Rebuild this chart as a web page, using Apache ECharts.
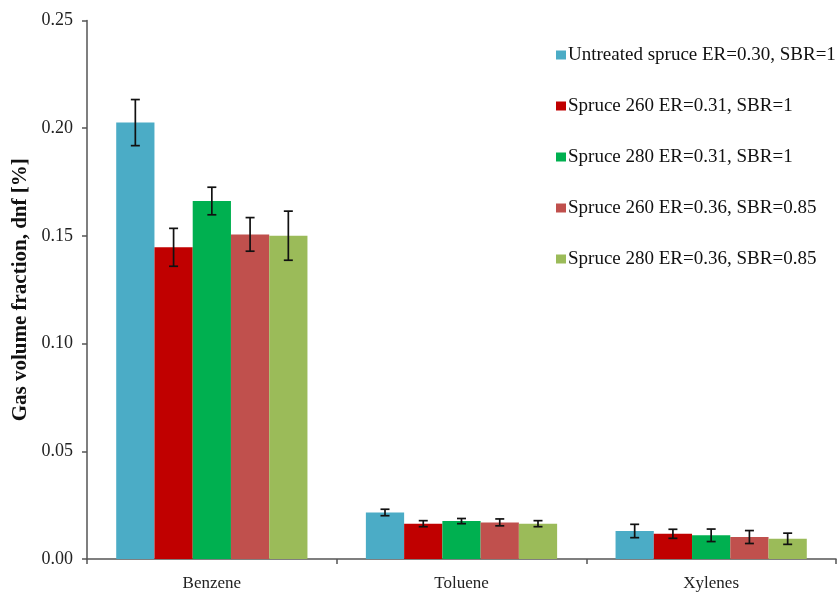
<!DOCTYPE html>
<html>
<head>
<meta charset="utf-8">
<script src="https://cdn.jsdelivr.net/npm/echarts@6/dist/echarts.min.js"></script>
<style>
  html, body { margin: 0; padding: 0; background: #fff; }
  #chart { width: 838px; height: 592px; }
</style>
</head>
<body>
<div id="chart"></div>
<script>
// Tar compounds in product gas, mean values with standard deviation
const categories = ['Benzene', 'Toluene', 'Xylenes'];

const seriesNames = [
  'Untreated spruce ER=0.30, SBR=1',
  'Spruce 260 ER=0.31, SBR=1',
  'Spruce 280 ER=0.31, SBR=1',
  'Spruce 260 ER=0.36, SBR=0.85',
  'Spruce 280 ER=0.36, SBR=0.85'
];

const untreated = [0.2026, 0.0216, 0.0130];
const spruce260a = [0.1447, 0.0164, 0.0117];
const spruce280a = [0.1662, 0.0176, 0.0110];
const spruce260b = [0.1507, 0.0170, 0.0102];
const spruce280b = [0.1501, 0.0164, 0.0094];

const errUntreated = [0.0107, 0.0015, 0.0031];
const errSpruce260a = [0.0088, 0.0014, 0.0021];
const errSpruce280a = [0.0064, 0.0012, 0.0029];
const errSpruce260b = [0.0078, 0.0016, 0.0030];
const errSpruce280b = [0.0114, 0.0014, 0.0026];

const yTicks = ['0.00', '0.05', '0.10', '0.15', '0.20', '0.25'];

const colors = ['#4BACC6', '#C00000', '#00B050', '#C0504D', '#9BBB59'];

const values = [untreated, spruce260a, spruce280a, spruce260b, spruce280b];
const errors = [errUntreated, errSpruce260a, errSpruce280a, errSpruce260b, errSpruce280b];

const CAT_GAP = 0.234;
const FONT = '"Liberation Serif", "Times New Roman", serif';

const chart = echarts.init(document.getElementById('chart'));

const barSeries = seriesNames.map((name, i) => ({
  name: name,
  type: 'bar',
  data: values[i],
  barGap: '0%',
  barCategoryGap: (CAT_GAP * 100) + '%',
  itemStyle: { color: colors[i] },
  silent: true,
  z: 2
}));

// Error bars drawn on top of each bar, offset to the bar's slot within the category
const errorSeries = seriesNames.map((name, i) => ({
  type: 'custom',
  name: name + ' error',
  data: values[i].map((v, k) => [k, v - errors[i][k], v + errors[i][k]]),
  z: 5,
  silent: true,
  renderItem: function (params, api) {
    const k = api.value(0);
    const low = api.coord([k, api.value(1)]);
    const high = api.coord([k, api.value(2)]);
    const bandW = api.size([1, 0])[0];
    const barW = bandW * (1 - CAT_GAP) / seriesNames.length;
    const x = low[0] + (i - (seriesNames.length - 1) / 2) * barW;
    const cap = 4.5;
    const style = { stroke: '#111', lineWidth: 1.7 };
    return {
      type: 'group',
      children: [
        { type: 'line', shape: { x1: x, y1: high[1], x2: x, y2: low[1] }, style: style },
        { type: 'line', shape: { x1: x - cap, y1: high[1], x2: x + cap, y2: high[1] }, style: style },
        { type: 'line', shape: { x1: x - cap, y1: low[1], x2: x + cap, y2: low[1] }, style: style }
      ]
    };
  },
  encode: { x: 0, y: [1, 2] }
}));

chart.setOption({
  animation: false,
  backgroundColor: '#fff',
  textStyle: { fontFamily: FONT },
  grid: { left: 87, right: 2, top: 20.5, bottom: 32.7 },
  legend: {
    data: seriesNames,
    orient: 'vertical',
    left: 551,
    top: 40,
    itemWidth: 10,
    itemHeight: 9,
    itemGap: 31,
    icon: 'rect',
    textStyle: { fontFamily: FONT, fontSize: 19, lineHeight: 20, color: '#111', padding: [0, 0, 0, -3] }
  },
  xAxis: {
    type: 'category',
    data: categories,
    axisLine: { lineStyle: { color: '#555', width: 1.5 } },
    axisTick: { show: true, length: 5, lineStyle: { color: '#555', width: 1.5 } },
    axisLabel: { fontFamily: FONT, fontSize: 17, color: '#222', margin: 16 }
  },
  yAxis: {
    type: 'value',
    min: 0,
    max: 0.25,
    interval: 0.05,
    name: 'Gas volume fraction, dnf [%]',
    nameLocation: 'middle',
    nameGap: 54,
    nameTextStyle: { fontFamily: FONT, fontSize: 21, fontWeight: 'bold', color: '#111' },
    axisLine: { show: true, lineStyle: { color: '#555', width: 1.5 } },
    axisTick: { show: true, length: 5, lineStyle: { color: '#555', width: 1.5 } },
    splitLine: { show: false },
    axisLabel: {
      fontFamily: FONT,
      fontSize: 18,
      color: '#222',
      margin: 14,
      formatter: function (v) { return yTicks[Math.round(v / 0.05)]; }
    }
  },
  series: barSeries.concat(errorSeries)
});
</script>
</body>
</html>
